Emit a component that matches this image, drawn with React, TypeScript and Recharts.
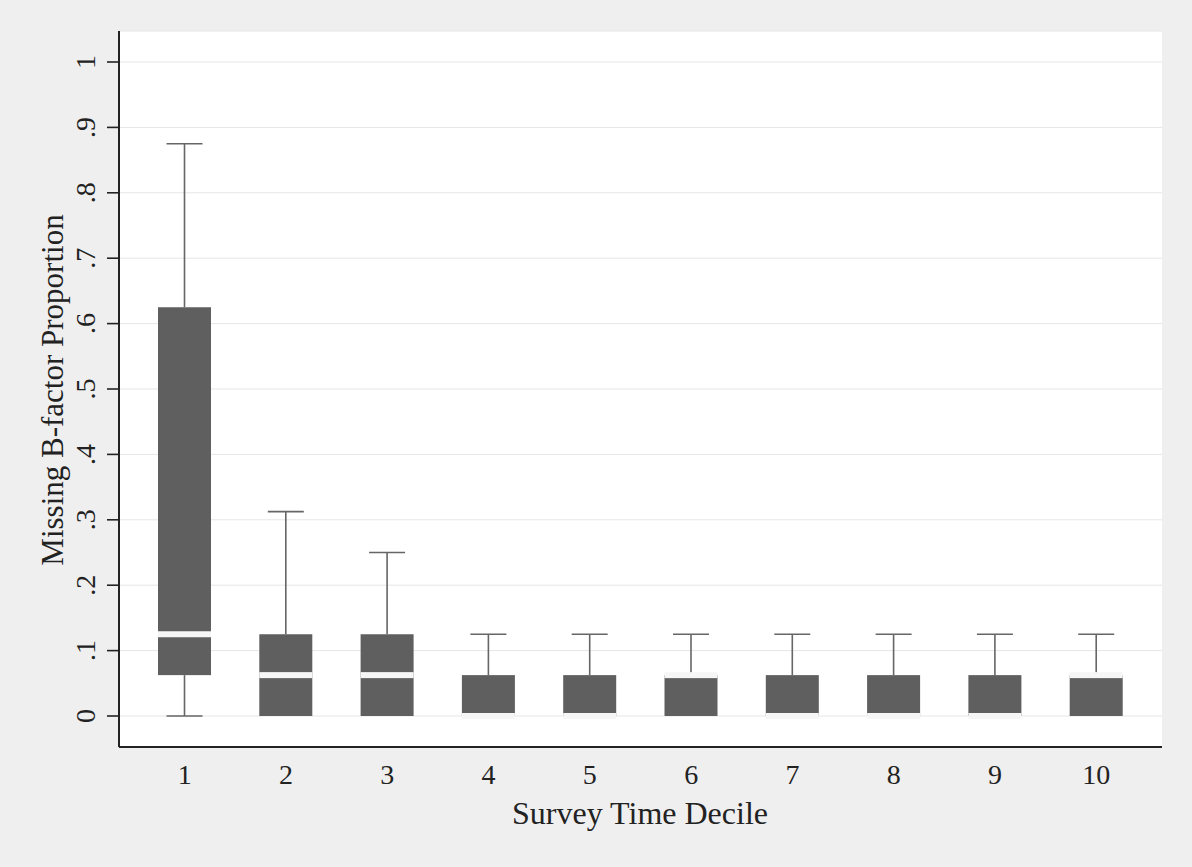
import React from "react";
import { ComposedChart, Bar, XAxis, YAxis, CartesianGrid } from "recharts";

const deciles = ["1", "2", "3", "4", "5", "6", "7", "8", "9", "10"];
const lowerWhisker = [0, 0, 0, 0, 0, 0, 0, 0, 0, 0];
const q1 = [0.0625, 0, 0, 0, 0, 0, 0, 0, 0, 0];
const median = [0.125, 0.0625, 0.0625, 0, 0, 0.0625, 0, 0, 0, 0.0625];
const q3 = [0.625, 0.125, 0.125, 0.0625, 0.0625, 0.0625, 0.0625, 0.0625, 0.0625, 0.0625];
const upperWhisker = [0.875, 0.3125, 0.25, 0.125, 0.125, 0.125, 0.125, 0.125, 0.125, 0.125];
const yTicks = [0, 0.1, 0.2, 0.3, 0.4, 0.5, 0.6, 0.7, 0.8, 0.9, 1];

const data = deciles.map((d, i) => ({
  decile: d,
  min: lowerWhisker[i],
  q1: q1[i],
  median: median[i],
  q3: q3[i],
  max: upperWhisker[i],
}));

const FONT = '"Liberation Serif", "Times New Roman", serif';
const INK = "#222";

function fmtY(v: number) {
  if (v === 0) return "0";
  if (v === 1) return "1";
  return v.toFixed(1).replace(/^0/, "");
}

function BoxShape(props: any) {
  const { x, y, width, height, payload } = props;
  const top = Math.min(y, y + height);
  const h = Math.abs(height);
  const k = h / (payload.q3 - payload.q1);
  // pixel position of a value, from the bar the library placed
  const py = (v: number) => top + (payload.q3 - v) * k;
  const cx = x + width / 2;
  const cap = 18;
  const whisker = { stroke: "#666", strokeWidth: 1.6 };
  const showLow = payload.min < payload.q1;
  return (
    <g>
      <line x1={cx} x2={cx} y1={py(payload.max)} y2={top} {...whisker} />
      <line x1={cx - cap} x2={cx + cap} y1={py(payload.max)} y2={py(payload.max)} {...whisker} />
      {showLow && (
        <>
          <line x1={cx} x2={cx} y1={top + h} y2={py(payload.min)} {...whisker} />
          <line x1={cx - cap} x2={cx + cap} y1={py(payload.min)} y2={py(payload.min)} {...whisker} />
        </>
      )}
      <rect x={x} y={top} width={width} height={h} fill="#5f5f5f" />
      <rect x={x} y={py(payload.median) - 3} width={width} height={6} fill="#f6f6f6" />
    </g>
  );
}

function YTick(props: any) {
  const { x, y, payload } = props;
  const bx = x - 12;
  return (
    <text
      x={bx}
      y={y}
      transform={`rotate(-90, ${bx}, ${y})`}
      textAnchor="middle"
      fontFamily={FONT}
      fontSize={28}
      fill={INK}
    >
      {fmtY(payload.value)}
    </text>
  );
}

function XTick(props: any) {
  const { x, y, payload } = props;
  return (
    <text x={x} y={y + 37} textAnchor="middle" fontFamily={FONT} fontSize={28} fill={INK}>
      {payload.value}
    </text>
  );
}

export default function App() {
  return (
    <div
      style={{
        position: "absolute",
        left: 0,
        top: 0,
        width: 1192,
        height: 867,
        background: "#efefef",
      }}
    >
      <ComposedChart
        width={1192}
        height={867}
        data={data}
        margin={{ top: 31, right: 30, left: 19, bottom: 20 }}
      >
        <CartesianGrid vertical={false} stroke="#e6e6e6" fill="#ffffff" />
        <XAxis
          dataKey="decile"
          padding={{ left: 15, right: 15 }}
          height={100}
          tickLine={false}
          tickSize={0}
          tickMargin={0}
          axisLine={{ stroke: INK, strokeWidth: 2 }}
          tick={<XTick />}
          interval={0}
          label={{
            content: () => (
              <text x={640} y={824} textAnchor="middle" fontFamily={FONT} fontSize={32} fill={INK}>
                Survey Time Decile
              </text>
            ),
          }}
        />
        <YAxis
          type="number"
          domain={[-0.0474, 1.0474]}
          allowDataOverflow
          ticks={yTicks}
          width={100}
          tickSize={12}
          tickMargin={0}
          tickLine={{ stroke: INK, strokeWidth: 1.6 }}
          axisLine={{ stroke: INK, strokeWidth: 2 }}
          tick={<YTick />}
          interval={0}
          label={{
            content: () => (
              <text
                x={63}
                y={390}
                transform="rotate(-90, 63, 390)"
                textAnchor="middle"
                fontFamily={FONT}
                fontSize={31}
                fill={INK}
              >
                Missing B-factor Proportion
              </text>
            ),
          }}
        />
        <Bar
          dataKey={(d: any) => [d.q1, d.q3]}
          barSize={53}
          shape={<BoxShape />}
          isAnimationActive={false}
        />
      </ComposedChart>
    </div>
  );
}
